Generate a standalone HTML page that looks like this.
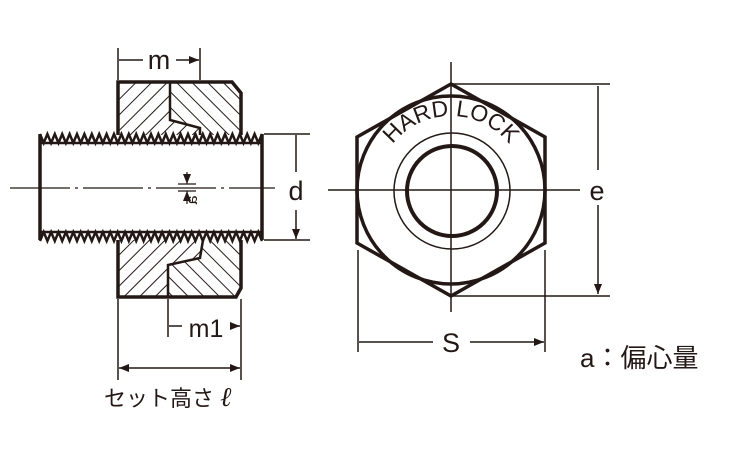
<!DOCTYPE html>
<html><head><meta charset="utf-8"><style>body{margin:0;background:#fff}svg{display:block}</style></head><body>
<svg width="750" height="450" viewBox="0 0 750 450" xmlns="http://www.w3.org/2000/svg" font-family="Liberation Sans, Noto Sans CJK JP, sans-serif">
<defs>
<pattern id="hb" width="11" height="11" patternUnits="userSpaceOnUse" patternTransform="rotate(45)"><line x1="0" y1="0" x2="0" y2="11" stroke="#231815" stroke-width="2"/></pattern>
<pattern id="hf" width="11" height="11" patternUnits="userSpaceOnUse" patternTransform="rotate(-45)"><line x1="0" y1="0" x2="0" y2="11" stroke="#231815" stroke-width="2"/></pattern>
<marker id="ar" viewBox="0 0 10 10" refX="10" refY="5" markerWidth="10" markerHeight="10" markerUnits="userSpaceOnUse" orient="auto-start-reverse"><path d="M0,1 L10,5 L0,9z" fill="#231815"/></marker>
<path id="arc" d="M377,190 A74,74 0 0 1 525,190"/>
</defs>
<g stroke="#231815" fill="none">
<path d="M118,82 L170,82 L170,120 L200,128 L200,135 L118,135Z" fill="url(#hb)" stroke="none"/>
<path d="M170,82 L232,82 L241,93 L241,135 L200,135 L200,128 L170,120Z" fill="url(#hf)" stroke="none"/>
<path d="M118,135 L118,82 L232,82 L241,93 L241,135" stroke-width="3.5"/>
<path d="M170,82 L170,120 L200,128 L200,135" stroke-width="2.5"/>
<path d="M118,240 L203,240 L200,258 L168,265 L168,297 L118,297Z" fill="url(#hb)" stroke="none"/>
<path d="M203,240 L241,240 L241,288 L236,297 L168,297 L168,265 L200,258Z" fill="url(#hf)" stroke="none"/>
<path d="M118,240 L118,297 L236,297 L241,288 L241,240" stroke-width="3.5"/>
<path d="M203,240 L200,258 L168,265 L168,297" stroke-width="2.5"/>
<rect x="40" y="138" width="222" height="99" fill="#fff" stroke="none"/>
<path d="M40,134 L40,240 M262,134 L262,240" stroke-width="3.5"/>
<path d="M40,143 L262,143 M40,232 L262,232" stroke-width="2.5"/>
<path id="tt" d="M40,134 l3.7,9 l3.7,-9 l3.7,9 l3.7,-9 l3.7,9 l3.7,-9 l3.7,9 l3.7,-9 l3.7,9 l3.7,-9 l3.7,9 l3.7,-9 l3.7,9 l3.7,-9 l3.7,9 l3.7,-9 l3.7,9 l3.7,-9 l3.7,9 l3.7,-9 l3.7,9 l3.7,-9 l3.7,9 l3.7,-9 l3.7,9 l3.7,-9 l3.7,9 l3.7,-9 l3.7,9 l3.7,-9 l3.7,9 l3.7,-9 l3.7,9 l3.7,-9 l3.7,9 l3.7,-9 l3.7,9 l3.7,-9 l3.7,9 l3.7,-9 l3.7,9 l3.7,-9 l3.7,9 l3.7,-9 l3.7,9 l3.7,-9 l3.7,9 l3.7,-9 l3.7,9 l3.7,-9 l3.7,9 l3.7,-9 l3.7,9 l3.7,-9 l3.7,9 l3.7,-9 l3.7,9 l3.7,-9 l3.7,9 l3.7,-9" stroke-width="2.5"/>
<use href="#tt" transform="translate(0,375) scale(1,-1)"/>
<path d="M10,188 L275,188" stroke-width="1.2" stroke-dasharray="60,5,3,5"/>
<path d="M178,184 L196,184 M178,191 L196,191" stroke-width="1.2"/>
<path d="M187,172 L187,184" stroke-width="1.2" marker-end="url(#ar)"/>
<path d="M187,204 L187,191" stroke-width="1.2" marker-end="url(#ar)"/>
<path d="M118,48 L118,80 M200,48 L200,80" stroke-width="1.5"/>
<path d="M143,60 L119,60 M176,60 L199,60" stroke-width="1.5" marker-end="url(#ar)"/>
<path d="M264,134 L310,134 M264,240 L310,240" stroke-width="1.5"/>
<path d="M296,172 L296,135 M296,210 L296,239" stroke-width="1.5" marker-end="url(#ar)"/>
<path d="M168,299 L168,337 M241,299 L241,380 M118,299 L118,380" stroke-width="1.5"/>
<path d="M182,326 L169,326 M230,326 L240,326" stroke-width="1.5" marker-end="url(#ar)"/>
<path d="M119,368 L240,368" stroke-width="1.5" marker-start="url(#ar)" marker-end="url(#ar)"/>
<path d="M451,62 L451,312" stroke-width="1.5"/>
<path d="M328,190 L580,190" stroke-width="1.5"/>
<circle cx="451" cy="190" r="94" stroke-width="3.5"/>
<path d="M451,84 L545,137 L545,243 L451,296 L357,243 L357,137Z" stroke-width="3.5"/>
<circle cx="452" cy="191" r="58" stroke-width="1.5"/>
<circle cx="452" cy="191" r="45" stroke-width="4"/>
<path d="M451,84 L610,84 M451,296 L610,296" stroke-width="1.5"/>
<path d="M598,170 L598,86 M598,205 L598,294" stroke-width="1.5" marker-end="url(#ar)"/>
<path d="M358,250 L358,352 M545,250 L545,352" stroke-width="1.5"/>
<path d="M433,342 L359,342 M470,342 L544,342" stroke-width="1.5" marker-end="url(#ar)"/>
</g>
<g fill="#231815" font-size="27">
<text x="159" y="69" text-anchor="middle">m</text>
<text x="296" y="200" text-anchor="middle">d</text>
<text x="597" y="200" text-anchor="middle">e</text>
<text x="451" y="352" text-anchor="middle">S</text>
<text x="206" y="337" text-anchor="middle" font-size="25">m1</text>
<text x="0" y="0" font-size="16" transform="translate(197,200) rotate(-90) scale(-1,1)" text-anchor="middle">a</text>
<text x="580" y="367" font-size="26">a：偏心量</text>
<text x="104" y="406" font-size="22">セット高さ <tspan font-family="Liberation Serif, serif" font-style="italic" font-size="27">ℓ</tspan></text>
<text font-size="23"><textPath href="#arc" startOffset="50%" text-anchor="middle">HARD LOCK</textPath></text>
</g>
</svg>
</body></html>
